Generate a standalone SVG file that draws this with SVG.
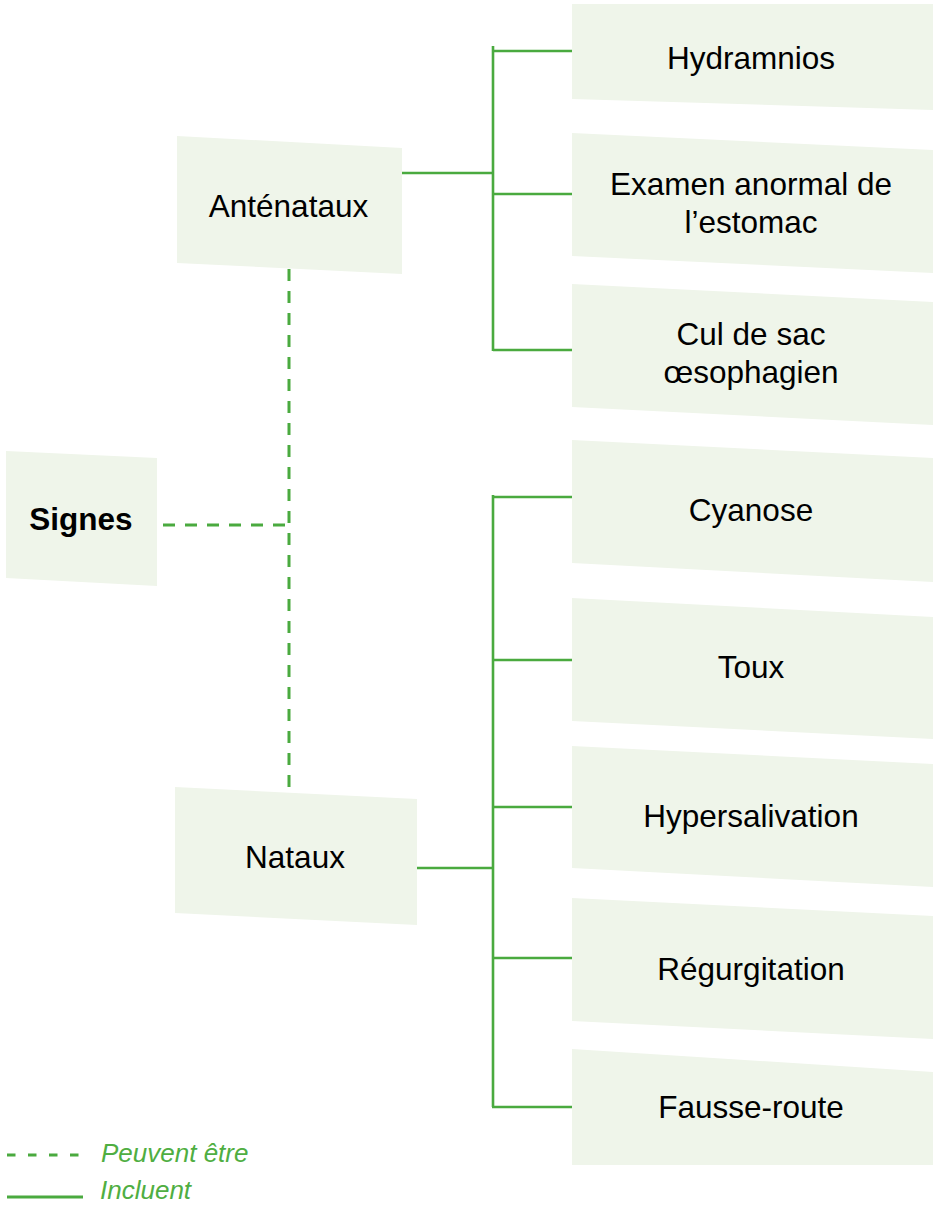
<svg xmlns="http://www.w3.org/2000/svg" width="933" height="1205" viewBox="0 0 933 1205">
<style>
.box{fill:#eff5ea;}
.t{font-family:"Liberation Sans",Arial,sans-serif;font-size:31.5px;fill:#000;text-anchor:middle;}
.b{font-weight:bold;}
.solid{stroke:#4aaa3f;stroke-width:2.6;fill:none;}
.dash{stroke:#4aaa3f;stroke-width:3;fill:none;stroke-dasharray:12 10;}
.leg{font-family:"Liberation Sans",Arial,sans-serif;font-size:26px;font-style:italic;fill:#4fae42;}
</style>
<rect width="933" height="1205" fill="#fff"/>
<g id="connectors">
<line class="solid" x1="402" y1="173" x2="493" y2="173"/>
<line class="solid" x1="493" y1="46" x2="493" y2="351"/>
<line class="solid" x1="493" y1="51" x2="572" y2="51"/>
<line class="solid" x1="493" y1="194" x2="572" y2="194"/>
<line class="solid" x1="493" y1="350" x2="572" y2="350"/>
<line class="solid" x1="417" y1="868" x2="493" y2="868"/>
<line class="solid" x1="493" y1="495" x2="493" y2="1107"/>
<line class="solid" x1="493" y1="497" x2="572" y2="497"/>
<line class="solid" x1="493" y1="660" x2="572" y2="660"/>
<line class="solid" x1="493" y1="807" x2="572" y2="807"/>
<line class="solid" x1="493" y1="958" x2="572" y2="958"/>
<line class="solid" x1="492" y1="1107" x2="572" y2="1107"/>
<line class="dash" x1="163" y1="525" x2="289" y2="525"/>
<line class="dash" x1="289" y1="269" x2="289" y2="796"/>
</g>
<g id="signes"><polygon class="box" points="6,451 157,458 157,586 6,578"/><text class="t b" x="81" y="530">Signes</text></g>
<g id="antenataux"><polygon class="box" points="177,136 402,148 402,274 177,263"/><text class="t" x="288.5" y="217">Anténataux</text></g>
<g id="nataux"><polygon class="box" points="175,787 417,799 417,925 175,913"/><text class="t" x="295" y="868">Nataux</text></g>
<g id="hydramnios"><polygon class="box" points="572,4 933,4 933,110 572,99"/><text class="t" x="751" y="69">Hydramnios</text></g>
<g id="examen"><polygon class="box" points="572,133 933,150 933,273 572,256"/><text class="t" x="751" y="195">Examen anormal de</text><text class="t" x="751" y="232.5">l’estomac</text></g>
<g id="culdesac"><polygon class="box" points="572,284 933,302 933,425 572,407"/><text class="t" x="751" y="345">Cul de sac</text><text class="t" x="751" y="383">œsophagien</text></g>
<g id="cyanose"><polygon class="box" points="572,440 933,458 933,582 572,563"/><text class="t" x="751" y="521">Cyanose</text></g>
<g id="toux"><polygon class="box" points="572,598 933,617 933,739 572,721"/><text class="t" x="751" y="678">Toux</text></g>
<g id="hypersalivation"><polygon class="box" points="572,746 933,764 933,887 572,868"/><text class="t" x="751" y="827">Hypersalivation</text></g>
<g id="regurgitation"><polygon class="box" points="572,898 933,916 933,1039 572,1021"/><text class="t" x="751" y="980">Régurgitation</text></g>
<g id="faussesroute"><polygon class="box" points="572,1049 933,1072 933,1165 572,1165"/><text class="t" x="751" y="1118">Fausse-route</text></g>
<g id="legend">
<line x1="7" y1="1155" x2="82" y2="1155" stroke="#4aaa3f" stroke-width="3" stroke-dasharray="8.5 12.5"/>
<text class="leg" x="101" y="1162">Peuvent être</text>
<line x1="7" y1="1197" x2="83" y2="1197" stroke="#4aaa3f" stroke-width="3"/>
<text class="leg" x="100" y="1199">Incluent</text>
</g>
</svg>
